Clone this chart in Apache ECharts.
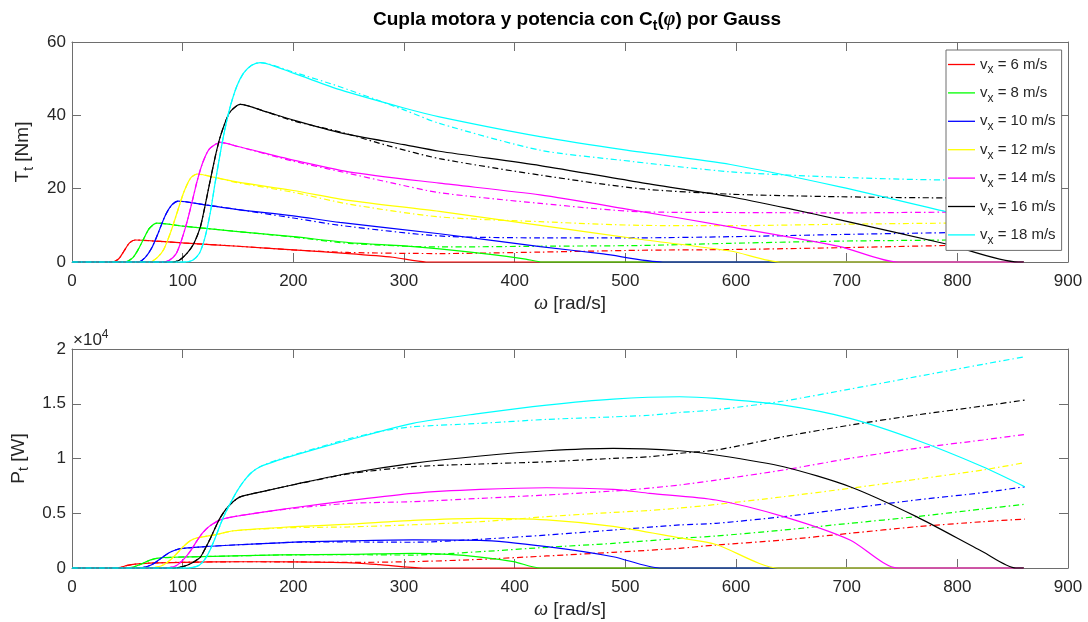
<!DOCTYPE html>
<html lang="es">
<head>
  <meta charset="utf-8">
  <script src="https://cdn.jsdelivr.net/npm/echarts@6/dist/echarts.min.js"></script>
</head>
<body style="margin: 0; background: #fff">
<div id="container" style="width: 1088px; height: 622px"></div>
<script type="text/javascript">
  // viento (m/s) y colores tipo matlab
  var speeds = [6, 8, 10, 12, 14, 16, 18];
  var colors = ['#ff0000', '#00ff00', '#0000ff', '#ffff00', '#ff00ff', '#000000', '#00ffff'];
  var yTicksP = ['0', '0.5', '1', '1.5', '2'];

  // cupla T_t [Nm] vs omega [rad/s] -- solido y punto-raya
  var T6s = [[0,0],[36,0],[42,0.8],[47,3],[52,5.2],[57,6],[80,5.6],[100,5.2],[150,4.3],[200,3.3],[250,2.3],[290,1.3],[320,0],[860,0]];
  var T6d = [[0,0],[36,0],[42,0.8],[47,3],[52,5.2],[57,6],[80,5.6],[100,5.2],[150,4.3],[200,3.3],[250,2.6],[332,2.3],[423,2.7],[513,3.2],[595,3.4],[694,3.9],[790,4.5],[860,4.9]];
  var T8s = [[0,0],[48,0],[55,1.2],[60,3.5],[65,6.5],[70,9.2],[77,10.6],[100,9.8],[150,8.3],[200,6.9],[250,5.3],[300,4.4],[332,3.6],[380,2.0],[410,0.8],[425,0],[860,0]];
  var T8d = [[0,0],[48,0],[55,1.2],[60,3.5],[65,6.5],[70,9.2],[77,10.6],[100,9.8],[150,8.3],[200,6.8],[250,5.1],[332,4.1],[423,4.3],[513,4.5],[595,5.1],[694,5.7],[790,6.0],[860,6.4]];
  var T10s = [[0,0],[60,0],[66,1.2],[72,3.8],[78,8],[84,12.5],[90,15.5],[96,16.6],[120,15.6],[150,14.3],[200,12.6],[242,10.8],[332,7.7],[423,4.2],[480,2.2],[534,0],[860,0]];
  var T10d = [[0,0],[60,0],[66,1.2],[72,3.8],[78,8],[84,12.5],[90,15.5],[96,16.6],[120,15.6],[150,14.3],[170,13.4],[200,12.0],[242,10.0],[332,7.1],[423,6.6],[513,6.6],[595,6.9],[694,7.5],[790,8.0],[860,8.3]];
  var T12s = [[0,0],[70,0],[77,1.2],[83,3.5],[89,8],[95,13.5],[101,19],[107,22.8],[113,24],[130,23],[150,21.8],[200,19.5],[250,16.8],[332,13.8],[423,10.0],[513,6.2],[595,3.0],[640,0],[860,0]];
  var T12d = [[0,0],[70,0],[77,1.2],[83,3.5],[89,8],[95,13.5],[101,19],[107,22.8],[113,24],[130,23],[150,21.6],[200,19.0],[250,15.8],[332,12.3],[423,11.0],[513,10.0],[595,9.9],[694,10.3],[790,10.6],[860,10.8]];
  var T14s = [[0,0],[82,0],[88,0.5],[94,2.2],[99,6],[104,11],[109,17],[113,22],[118,27],[124,30.8],[134,32.6],[150,31.5],[200,27.8],[250,24.6],[332,21.5],[423,18.3],[500,14.5],[595,9.6],[694,4.2],[746,0],[860,0]];
  var T14d = [[0,0],[82,0],[88,0.5],[94,2.2],[99,6],[104,11],[109,17],[113,22],[118,27],[124,30.8],[134,32.6],[150,31.5],[200,27.5],[242,24.7],[290,21.5],[332,18.9],[423,16],[513,13.7],[595,13.5],[694,13.4],[790,13.6],[860,13.8]];
  var T16s = [[0,0],[90,0],[97,0.5],[104,2.4],[110,5],[116,9.6],[120,15],[125,22.4],[130,29.5],[134,34.2],[139,38.5],[143,41],[152,43],[175,41],[200,38.7],[242,35.3],[300,32.0],[332,30.2],[423,26.3],[513,21.7],[595,17.8],[649,14.5],[694,11.5],[790,4.9],[855,0],[860,0]];
  var T16d = [[0,0],[90,0],[97,0.5],[104,2.4],[110,5],[116,9.6],[120,15],[125,22.4],[130,29.5],[134,34.2],[139,38.5],[143,41],[152,43],[175,41],[200,38.5],[242,35.5],[287,31.6],[332,28.2],[423,23.7],[513,20.0],[595,18.5],[694,17.8],[790,17.5],[860,17.6]];
  var T18s = [[0,0],[102,0],[109,0.5],[115,2.3],[120,6.5],[125,13.5],[129,21],[134,29.7],[138,36],[143,42.4],[149,48],[155,51.5],[162,53.6],[170,54.4],[200,51.5],[242,47],[300,42],[332,39.6],[423,34.2],[501,30.5],[595,26.6],[694,20.5],[790,13.7],[860,8.6]];
  var T18d = [[0,0],[102,0],[109,0.5],[115,2.3],[120,6.5],[125,13.5],[129,21],[134,29.7],[138,36],[143,42.4],[149,48],[155,51.5],[162,53.6],[170,54.4],[200,51.8],[242,47.8],[300,41.5],[332,37.8],[423,30.5],[495,27.8],[595,24.6],[694,23.1],[790,22.4],[860,22.4]];

  // potencia P_t [W] vs omega [rad/s]
  var P6s = [[0,0],[38,0],[44,60],[50,240],[57,360],[70,450],[100,520],[150,570],[200,560],[248,490],[278,300],[317,0],[860,0]];
  var P6d = [[0,0],[38,0],[44,60],[50,240],[57,360],[70,450],[100,520],[150,570],[200,560],[248,510],[308,580],[369,790],[429,1100],[489,1430],[549,1800],[582,2100],[643,2560],[703,3170],[763,3770],[823,4230],[861,4470]];
  var P8s = [[0,0],[48,0],[54,60],[60,250],[66,520],[72,760],[78,900],[90,980],[146,1100],[188,1190],[251,1240],[308,1340],[340,1250],[369,1000],[399,580],[423,0],[860,0]];
  var P8d = [[0,0],[48,0],[54,60],[60,250],[66,520],[72,760],[78,900],[90,980],[146,1100],[188,1190],[251,1220],[308,1180],[369,1490],[429,1890],[489,2250],[549,2710],[582,2920],[643,3470],[703,4080],[763,4690],[823,5390],[861,5820]];
  var P10s = [[0,0],[60,0],[66,80],[72,300],[78,700],[84,1150],[90,1500],[97,1750],[120,1950],[146,2100],[188,2300],[206,2380],[250,2480],[308,2560],[369,2520],[429,1950],[489,1030],[531,0],[860,0]];
  var P10d = [[0,0],[60,0],[66,80],[72,300],[78,700],[84,1150],[90,1500],[97,1750],[120,1950],[146,2100],[188,2300],[206,2360],[250,2380],[308,2350],[369,2620],[429,3010],[489,3470],[549,3930],[582,4080],[643,4690],[703,5450],[763,6210],[823,6880],[861,7420]];
  var P12s = [[0,0],[70,0],[77,90],[83,300],[89,750],[95,1350],[101,2000],[107,2500],[113,2750],[130,3050],[146,3400],[188,3700],[206,3800],[250,4000],[308,4350],[369,4540],[429,4400],[489,3800],[549,2750],[582,2150],[638,0],[860,0]];
  var P12d = [[0,0],[70,0],[77,90],[83,300],[89,750],[95,1350],[101,2000],[107,2500],[113,2750],[130,3050],[146,3400],[188,3650],[206,3700],[250,3750],[308,3950],[369,4230],[429,4690],[489,5080],[522,5250],[549,5480],[582,5800],[643,6510],[703,7280],[763,8100],[823,8950],[861,9620]];
  var P14s = [[0,0],[82,0],[88,40],[94,200],[99,600],[104,1150],[109,1850],[113,2500],[118,3200],[124,3800],[134,4400],[150,4750],[176,5150],[200,5500],[250,6150],[308,6820],[369,7180],[429,7330],[489,7180],[522,6820],[582,6210],[643,4690],[703,2560],[746,0],[860,0]];
  var P14d = [[0,0],[82,0],[88,40],[94,200],[99,600],[104,1150],[109,1850],[113,2500],[118,3200],[124,3800],[134,4400],[150,4750],[176,5150],[200,5450],[250,5900],[308,6060],[369,6360],[429,6670],[489,7030],[522,7300],[549,7580],[582,8030],[643,8950],[703,10010],[763,10930],[823,11690],[861,12200]];
  var P16s = [[0,0],[90,0],[97,50],[104,250],[110,550],[116,1000],[120,1700],[125,2700],[130,3800],[134,4600],[139,5350],[145,6000],[152,6500],[175,7050],[200,7600],[250,8650],[308,9560],[369,10230],[429,10710],[489,10930],[549,10710],[582,10320],[643,9250],[703,7420],[763,4690],[823,1490],[853,0],[860,0]];
  var P16d = [[0,0],[90,0],[97,50],[104,250],[110,550],[116,1000],[120,1700],[125,2700],[130,3800],[134,4600],[139,5350],[145,6000],[152,6500],[175,7050],[200,7600],[250,8600],[308,9250],[369,9500],[429,9700],[489,10010],[522,10160],[549,10470],[582,10770],[643,11990],[703,13050],[763,13970],[823,14790],[861,15340]];
  var P18s = [[0,0],[102,0],[109,50],[115,260],[120,780],[125,1700],[130,2900],[134,3950],[138,4900],[143,5900],[149,7000],[155,7900],[162,8700],[170,9250],[185,9800],[206,10450],[250,11690],[308,13210],[369,14120],[429,14880],[489,15430],[549,15640],[582,15490],[643,14880],[703,13670],[763,11690],[823,9250],[861,7420]];
  var P18d = [[0,0],[102,0],[109,50],[115,260],[120,780],[125,1700],[130,2900],[134,3950],[138,4900],[143,5900],[149,7000],[155,7900],[162,8700],[170,9250],[185,9850],[206,10500],[250,11800],[280,12500],[308,12900],[369,13210],[429,13570],[489,13800],[522,13950],[549,14200],[582,14450],[643,15250],[703,16340],[763,17470],[823,18600],[861,19290]];

  var torqueSolid = [T6s, T8s, T10s, T12s, T14s, T16s, T18s];
  var torqueDash = [T6d, T8d, T10d, T12d, T14d, T16d, T18d];
  var powerSolid = [P6s, P8s, P10s, P12s, P14s, P16s, P18s];
  var powerDash = [P6d, P8d, P10d, P12d, P14d, P16d, P18d];

  var font = '"Liberation Sans", Arial, Helvetica, sans-serif';
  var serif = '"Liberation Serif", "DejaVu Serif", serif';
  var frame = '#6e6e6e';
  var txt = '#262626';

  var dom = document.getElementById('container');
  var myChart = echarts.init(dom, null, { renderer: 'canvas' });

  function mkLine(name, data, color, type, ax) {
    return {
      name: name,
      type: 'line',
      data: data,
      xAxisIndex: ax,
      yAxisIndex: ax,
      showSymbol: false,
      symbol: 'none',
      smooth: 0.25,
      clip: false,
      animation: false,
      silent: true,
      lineStyle: { color: color, width: 1.2, type: type },
      itemStyle: { color: color }
    };
  }

  var series = [];
  speeds.forEach(function (v, i) {
    series.push(mkLine('v' + v, torqueSolid[i], colors[i], 'solid', 0));
    series.push(mkLine('v' + v + 'g', torqueDash[i], colors[i], [6, 3, 1.5, 3], 0));
    series.push(mkLine('v' + v, powerSolid[i], colors[i], 'solid', 2));
    series.push(mkLine('v' + v + 'g', powerDash[i], colors[i], [6, 3, 1.5, 3], 2));
  });

  function xAx(grid, main) {
    return {
      type: 'value', gridIndex: grid, min: 0, max: 900, interval: 100,
      position: main ? 'bottom' : 'top',
      name: main ? '{i|ω} [rad/s]' : '',
      nameLocation: 'middle', nameGap: 32,
      nameTextStyle: {
        fontFamily: font, fontSize: 19, color: txt,
        rich: { i: { fontFamily: serif, fontStyle: 'italic', fontSize: 20, color: txt } }
      },
      axisLine: { show: true, onZero: false, lineStyle: { color: frame, width: 1 } },
      axisTick: { show: true, inside: true, length: 9, lineStyle: { color: frame } },
      axisLabel: { show: main, margin: 11, fontFamily: font, fontSize: 17, color: txt },
      splitLine: { show: false }
    };
  }

  function yAx(grid, main, max, interval, name, fmt) {
    return {
      type: 'value', gridIndex: grid, min: 0, max: max, interval: interval,
      position: main ? 'left' : 'right',
      name: main ? name : '',
      nameLocation: 'middle', nameGap: 36, nameRotate: 90,
      nameTextStyle: {
        fontFamily: font, fontSize: 19, color: txt,
        rich: {
          a: { fontFamily: font, fontSize: 19, color: txt },
          b: { fontFamily: font, fontSize: 14, color: txt, padding: [12, 0, 0, 0] }
        }
      },
      axisLine: { show: true, onZero: false, lineStyle: { color: frame, width: 1 } },
      axisTick: { show: true, inside: true, length: 9, lineStyle: { color: frame } },
      axisLabel: { show: main, margin: 6, fontFamily: font, fontSize: 17, color: txt, formatter: fmt },
      splitLine: { show: false }
    };
  }

  var option = {
    backgroundColor: '#ffffff',
    animation: false,
    title: {
      text: '{a|Cupla motora y potencia con C}{b|t}{a|(}{p|φ}{a|) por Gauss}',
      left: 572, top: 1, textAlign: 'center',
      textStyle: {
        fontFamily: font, fontSize: 19, fontWeight: 'bold', color: '#000',
        rich: {
          a: { fontFamily: font, fontSize: 19, fontWeight: 'bold', color: '#000' },
          b: { fontFamily: font, fontSize: 14, fontWeight: 'bold', color: '#000', padding: [13, 0, 0, 0] },
          p: { fontFamily: serif, fontStyle: 'italic', fontSize: 20, color: '#000' }
        }
      }
    },
    legend: {
      data: speeds.map(function (v) { return 'v' + v; }),
      orient: 'vertical',
      left: 946, top: 50,
      padding: [7, 6, 4, 2],
      icon: 'rect',
      itemWidth: 27, itemHeight: 1.3, itemGap: 9.4,
      backgroundColor: '#ffffff',
      borderColor: frame, borderWidth: 1, borderRadius: 0,
      selectedMode: false,
      formatter: function (name) { return '{a|v}{b|x}{a| = ' + name.slice(1) + ' m/s}'; },
      textStyle: {
        fontFamily: font, fontSize: 15, color: txt,
        rich: {
          a: { fontFamily: font, fontSize: 15, color: txt },
          b: { fontFamily: font, fontSize: 12, color: txt, padding: [11, 0, 0, 0] }
        }
      }
    },
    grid: [
      { left: 72, top: 42, width: 996, height: 220, containLabel: false },
      { left: 72, top: 349, width: 996, height: 219, containLabel: false }
    ],
    xAxis: [xAx(0, true), xAx(0, false), xAx(1, true), xAx(1, false)],
    yAxis: [
      yAx(0, true, 60, 20, '{a|T}{b|t}{a| [Nm]}'),
      yAx(0, false, 60, 20, ''),
      yAx(1, true, 20000, 5000, '{a|P}{b|t}{a| [W]}', function (v) { return yTicksP[v / 5000]; }),
      yAx(1, false, 20000, 5000, '')
    ],
    graphic: [{
      type: 'text', left: 73, top: 329,
      style: {
        text: '{a|×10}{s|4}',
        rich: {
          a: { fontFamily: font, fontSize: 17, fill: txt },
          s: { fontFamily: font, fontSize: 12, fill: txt, padding: [0, 0, 10, 0] }
        }
      }
    }],
    series: series
  };

  myChart.setOption(option);
  window.addEventListener('resize', myChart.resize);
</script>
</body>
</html>
